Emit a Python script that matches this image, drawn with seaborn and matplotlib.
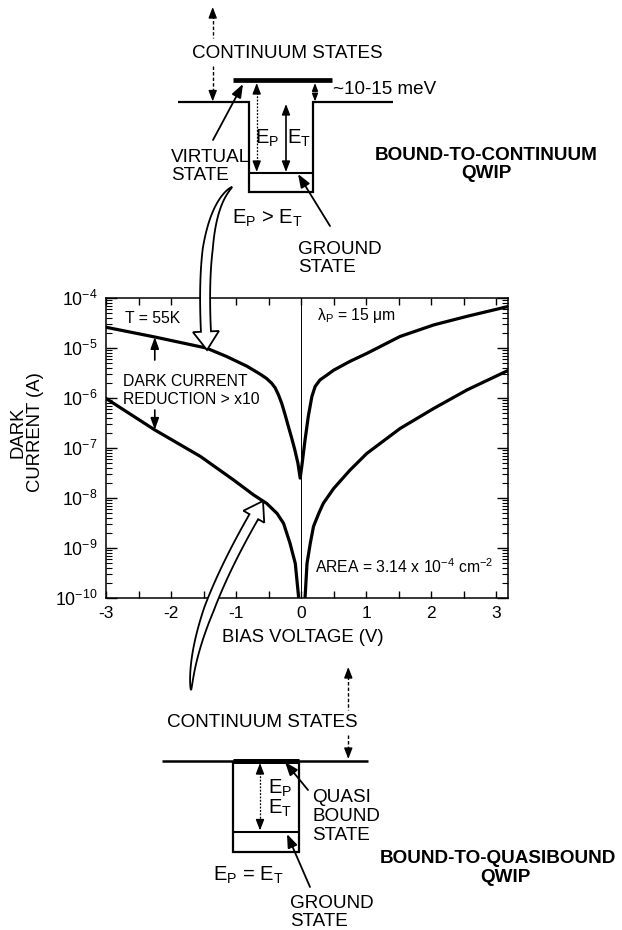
import numpy as np
import pandas as pd
import matplotlib
matplotlib.use("Agg")
import matplotlib.pyplot as plt
import seaborn as sns
from matplotlib.patches import Polygon
from matplotlib.ticker import (FixedLocator, FixedFormatter, MultipleLocator,
                               LogLocator, NullFormatter, LogFormatterSciNotation)

# ---- measured dark current (A) versus bias voltage (V), T = 55 K ----
# bound-to-continuum QWIP
bias_btc = [-3.0, -2.25, -1.46, -1.15, -0.83, -0.63, -0.53, -0.45, -0.40, -0.35,
            -0.30, -0.25, -0.20, -0.15, -0.10, -0.05, -0.015,
            0.01, 0.06, 0.11, 0.165, 0.215, 0.29, 0.40, 0.50, 0.75, 1.01, 1.52,
            2.04, 2.55, 3.19]
current_btc = [2.6e-5, 1.66e-5, 1.0e-5, 6.8e-6, 4.3e-6, 3.0e-6, 2.45e-6, 1.95e-6,
               1.6e-6, 1.17e-6, 7.9e-7, 4.8e-7, 2.8e-7, 1.66e-7, 9.5e-8, 5.0e-8,
               2.5e-8,
               4.3e-8, 1.45e-7, 4.3e-7, 1.07e-6, 1.7e-6, 2.3e-6, 2.9e-6, 3.6e-6,
               5.4e-6, 7.8e-6, 1.7e-5, 2.9e-5, 4.3e-5, 6.8e-5]
# bound-to-quasibound QWIP
bias_btq = [-3.0, -2.25, -1.55, -1.04, -0.73, -0.53, -0.37, -0.27, -0.17, -0.09,
            -0.04, -0.025,
            0.045, 0.06, 0.09, 0.14, 0.19, 0.27, 0.34, 0.50, 0.75, 1.01, 1.52,
            2.04, 2.55, 3.19]
current_btq = [9.8e-7, 2.3e-7, 6.8e-8, 2.3e-8, 1.15e-8, 7.8e-9, 4.9e-9, 3.1e-9,
               1.23e-9, 4.9e-10, 1.07e-10, 1e-11,
               1e-11, 1.0e-10, 4.9e-10, 1.23e-9, 2.7e-9, 4.9e-9, 7.8e-9, 1.55e-8,
               3.6e-8, 7.8e-8, 2.45e-7, 6.2e-7, 1.45e-6, 3.6e-6]

x_ticks = [-3, -2, -1, 0, 1, 2, 3]
x_tick_labels = ["-3", "-2", "-1", "0", "1", "2", "3"]
reduction_bias = -2.25          # where the "> x10" gap is marked
reduction_tails = [5.75e-6, 5.75e-7]

sns.set_theme(style="ticks")
plt.rcParams.update({
    "font.family": ["Liberation Sans", "DejaVu Sans"],
    "mathtext.fontset": "custom",
    "mathtext.rm": "Liberation Sans",
    "mathtext.it": "Liberation Sans:italic",
    "mathtext.bf": "Liberation Sans:bold",
    "mathtext.default": "regular",
    "axes.unicode_minus": False,
    "text.color": "black",
    "axes.labelcolor": "black",
    "axes.edgecolor": "black",
    "xtick.color": "black",
    "ytick.color": "black",
    "xtick.labelcolor": "black",
    "ytick.labelcolor": "black",
})

W, H = 622, 930
fig = plt.figure(figsize=(W / 100, H / 100), dpi=100)
fig.patch.set_facecolor("white")

# ---------------- main dark-current panel ----------------
ax = fig.add_axes([106 / W, 1 - 598 / H, (508 - 106) / W, 300 / H])
ax.set_yscale("log")
df = pd.concat([
    pd.DataFrame({"bias": bias_btc, "current": current_btc, "device": "continuum"}),
    pd.DataFrame({"bias": bias_btq, "current": current_btq, "device": "quasibound"}),
])
sns.lineplot(data=df, x="bias", y="current", units="device", estimator=None,
             sort=False, color="black", lw=2.3, ax=ax, legend=False)
for ln in ax.lines:
    ln.set_solid_joinstyle("round")
ax.axvline(0, color="black", lw=0.7, zorder=1)

ax.set_xlim(-3, 3.18)
ax.set_ylim(1e-10, 1e-4)
ax.xaxis.set_major_locator(FixedLocator(x_ticks))
ax.xaxis.set_major_formatter(FixedFormatter(x_tick_labels))
ax.xaxis.set_minor_locator(MultipleLocator(0.5))
ax.yaxis.set_major_locator(LogLocator(base=10, numticks=20))
ax.yaxis.set_major_formatter(LogFormatterSciNotation())
ax.yaxis.set_minor_locator(LogLocator(base=10, subs=np.arange(2, 10), numticks=20))
ax.yaxis.set_minor_formatter(NullFormatter())
ax.tick_params(axis="x", which="both", direction="in", top=True, bottom=True,
               length=5, width=1, labelsize=12.5, pad=6)
ax.tick_params(axis="y", which="major", direction="in", left=True, right=True,
               length=8, width=1, labelsize=12.8, pad=6)
ax.tick_params(axis="y", which="minor", direction="in", left=True, right=True,
               length=4, width=0.8)
for sp in ax.spines.values():
    sp.set_linewidth(1.1)
    sp.set_visible(True)

ax.set_xlabel("BIAS VOLTAGE (V)", fontsize=13.3, va="center")
ax.xaxis.set_label_coords(0.49, -0.133)
ax.set_ylabel("DARK\nCURRENT (A)", fontsize=13.3, va="center", linespacing=1.05)
ax.yaxis.set_label_coords(-0.197, 0.553)

txt = dict(fontsize=11.3, transform=ax.transAxes, va="center", ha="left")
ax.text(0.047, 0.933, "T = 55K", **txt)
ax.text(0.524, 0.943, r"$\mathregular{\lambda_P}$ = 15 $\mathregular{\mu}$m", **txt)
ax.text(0.52, 0.104, r"AREA = 3.14 x 10$^{-4}$ cm$^{-2}$", **txt)
ax.text(0.042, 0.722, "DARK CURRENT", **txt)
ax.text(0.042, 0.662, "REDUCTION > x10", **txt)

small_head = dict(arrowstyle="-|>,head_length=0.7,head_width=0.25", color="black",
                  lw=1.2, shrinkA=0, shrinkB=0, mutation_scale=10)
i_top = bias_btc.index(reduction_bias)
i_bot = bias_btq.index(reduction_bias)
ax.annotate("", xy=(reduction_bias, current_btc[i_top]),
            xytext=(reduction_bias, reduction_tails[0]), arrowprops=small_head)
ax.annotate("", xy=(reduction_bias, current_btq[i_bot]),
            xytext=(reduction_bias, reduction_tails[1]), arrowprops=small_head)

# ---------------- band diagrams (pixel space overlay) ----------------
ov = fig.add_axes([0, 0, 1, 1])
ov.set_xlim(0, W)
ov.set_ylim(H, 0)
ov.axis("off")
ov.set_zorder(5)
ov.patch.set_alpha(0)


def line(xs, ys, lw=1.6, ls="-"):
    ov.plot(xs, ys, color="black", lw=lw, ls=ls, solid_capstyle="butt",
            solid_joinstyle="miter", dash_capstyle="butt")


def head(tip, frm, scale=10):
    ov.annotate("", xy=tip, xytext=frm,
                arrowprops=dict(arrowstyle="-|>,head_length=0.65,head_width=0.25",
                                color="black", lw=1.0, shrinkA=0, shrinkB=0,
                                mutation_scale=scale))


def pointer(tip, frm):
    ov.annotate("", xy=tip, xytext=frm,
                arrowprops=dict(arrowstyle="-|>,head_length=0.8,head_width=0.3",
                                color="black", lw=1.3, shrinkA=0, shrinkB=0,
                                mutation_scale=10))


def double_arrow(x, y_top, y_bot, ls=(0, (1.5, 1.2)), lw=0.9, scale=10):
    line([x, x], [y_top + 6, y_bot - 6], lw=lw, ls=ls)
    head((x, y_top), (x, y_top + 8), scale)
    head((x, y_bot), (x, y_bot - 8), scale)


def hollow_arrow(p0, pc, p1, tail_w, head_w, head_len):
    p0, pc, p1 = map(np.asarray, (p0, pc, p1))
    t = np.linspace(0, 1, 300)[:, None]
    pts = (1 - t) ** 2 * p0 + 2 * (1 - t) * t * pc + t ** 2 * p1
    s = np.r_[0, np.cumsum(np.hypot(*np.diff(pts, axis=0).T))]
    keep = s <= s[-1] - head_len
    body, sb = pts[keep], s[keep]
    tan = np.gradient(body, axis=0)
    tan /= np.hypot(tan[:, 0], tan[:, 1])[:, None]
    nrm = np.c_[-tan[:, 1], tan[:, 0]]
    half = 0.5 * tail_w * np.clip(sb / (0.45 * sb[-1]), 0, 1) ** 0.6
    left = body + nrm * half[:, None]
    right = body - nrm * half[:, None]
    base, n = body[-1], nrm[-1]
    outline = np.vstack([left, base + n * head_w / 2, p1, base - n * head_w / 2,
                         right[::-1]])
    ov.add_patch(Polygon(outline, closed=True, fc="white", ec="black", lw=1.3,
                         joinstyle="miter", zorder=6))


lab = dict(fontsize=13.6, va="center")
elab = dict(fontsize=14.5, va="center")

# bound-to-continuum well
line([178, 249, 249, 313, 313, 393], [102.5, 102.5, 192.5, 192.5, 102.5, 102.5])
line([249, 313], [173, 173], lw=1.5)
line([233, 332], [80.5, 80.5], lw=3.4)
line([212.7, 212.7], [15, 38], lw=1.0, ls=(0, (2.5, 1.5)))
head((212.7, 7), (212.7, 16))
line([212.7, 212.7], [66, 94], lw=1.0, ls=(0, (2.5, 1.5)))
head((212.7, 101.5), (212.7, 93))
ov.text(287, 54, "CONTINUUM STATES", ha="center", **lab)
double_arrow(256.7, 83, 172)
double_arrow(286, 104, 172, ls="-", lw=1.2)
double_arrow(315, 83, 101.5, scale=7)
ov.text(333, 89, "~10-15 meV", ha="left", **lab)
ov.text(267, 138, r"$\mathregular{E_P}$", ha="center", **elab)
ov.text(299, 138, r"$\mathregular{E_T}$", ha="center", **elab)
ov.text(171, 157, "VIRTUAL", ha="left", **lab)
ov.text(171, 175, "STATE", ha="left", **lab)
pointer((243, 84), (213, 140))
ov.text(267, 218, r"$\mathregular{E_P}$ > $\mathregular{E_T}$", ha="center", **elab)
pointer((298, 174), (330, 226))
ov.text(298, 249, "GROUND", ha="left", **lab)
ov.text(298, 267, "STATE", ha="left", **lab)
ov.text(486, 155, "BOUND-TO-CONTINUUM", ha="center", fontweight="bold", **lab)
ov.text(486, 174, "QWIP", ha="center", fontweight="bold", **lab)
hollow_arrow((232, 187), (198, 215), (207, 350), tail_w=10, head_w=26, head_len=18)

# bound-to-quasibound well
line([162, 368], [760.7, 760.7], lw=1.8)
line([232.7, 299], [760.7, 760.7], lw=3.6)
line([232.7, 232.7, 299, 299], [760.7, 851.7, 851.7, 760.7])
line([232.7, 299], [831.7, 831.7], lw=1.5)
head((348.3, 667), (348.3, 676))
line([348.3, 348.3], [676, 710], lw=1.0, ls=(0, (2.5, 1.5)))
line([348.3, 348.3], [735, 751], lw=1.0, ls=(0, (2.5, 1.5)))
head((348.3, 759), (348.3, 750))
ov.text(262, 722, "CONTINUUM STATES", ha="center", **lab)
double_arrow(260, 763, 830.5)
ov.text(268, 788, r"$\mathregular{E_P}$", ha="left", **elab)
ov.text(268, 808, r"$\mathregular{E_T}$", ha="left", **elab)
pointer((285, 762), (308, 790))
ov.text(312, 797, "QUASI", ha="left", **lab)
ov.text(312, 816, "BOUND", ha="left", **lab)
ov.text(312, 835, "STATE", ha="left", **lab)
ov.text(248, 875, r"$\mathregular{E_P}$ = $\mathregular{E_T}$", ha="center", **elab)
pointer((287, 834), (310, 887))
ov.text(290, 903, "GROUND", ha="left", **lab)
ov.text(290, 921, "STATE", ha="left", **lab)
ov.text(498, 858, "BOUND-TO-QUASIBOUND", ha="center", fontweight="bold", **lab)
ov.text(505, 877, "QWIP", ha="center", fontweight="bold", **lab)
hollow_arrow((191, 690), (192, 620), (263, 501), tail_w=10, head_w=24, head_len=18)

fig.savefig("out.png", dpi=100, facecolor="white")
